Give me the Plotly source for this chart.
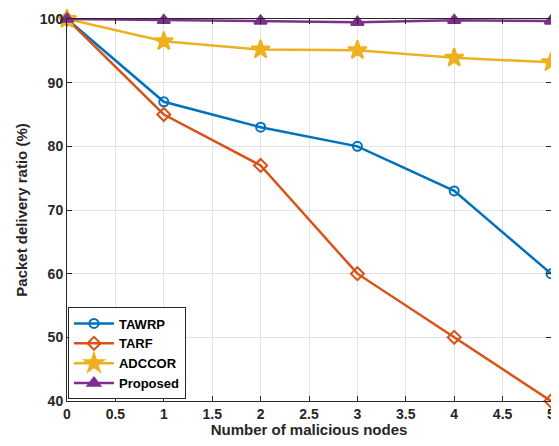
import plotly.graph_objects as go

x_nodes = [0, 1, 2, 3, 4, 5]
tawrp = [100, 87, 83, 80, 73, 60]
tarf = [100, 85, 77, 60, 50, 40]
adccor = [100, 96.5, 95.2, 95.1, 93.9, 93.2]
proposed = [100, 99.8, 99.7, 99.5, 99.8, 99.7]

x_ticks = [0, 0.5, 1, 1.5, 2, 2.5, 3, 3.5, 4, 4.5, 5]
x_tick_labels = ["0", "0.5", "1", "1.5", "2", "2.5", "3", "3.5", "4", "4.5", "5"]
y_ticks = [40, 50, 60, 70, 80, 90, 100]
y_tick_labels = ["40", "50", "60", "70", "80", "90", "100"]

series = [
    ("TAWRP", tawrp, "#0072BD", "circle-open", 9),
    ("TARF", tarf, "#D95319", "diamond-open", 10),
    ("ADCCOR", adccor, "#EDB120", "star", 14),
    ("Proposed", proposed, "#7E2F8E", "triangle-up", 11),
]

fam = "Liberation Sans, Arial, sans-serif"
fig = go.Figure()
for name, ys, color, sym, sz in series:
    fig.add_trace(go.Scatter(
        x=x_nodes, y=ys, name="<b>%s</b>" % name, mode="lines+markers",
        line=dict(color=color, width=2.5),
        marker=dict(symbol=sym, size=sz, color=color,
                    line=dict(color=color, width=2)),
        cliponaxis=False,
    ))

# page body has an 8px margin, so the figure is sized/offset to compensate
fig.update_layout(
    width=553, height=430,
    margin=dict(l=59, r=10, t=11, b=37, autoexpand=False),
    plot_bgcolor="white", paper_bgcolor="white",
    font=dict(family=fam, size=14, color="#262626"),
    showlegend=True,
    legend=dict(x=0.002, y=0.004, xanchor="left", yanchor="bottom",
                bgcolor="white", bordercolor="#262626", borderwidth=1,
                font=dict(size=13, family=fam, color="#000000"),
                tracegroupgap=0, itemwidth=40),
)
fig.update_xaxes(
    range=[0, 5], tickmode="array",
    tickvals=x_ticks,
    ticktext=["<b>%s</b>" % t for t in x_tick_labels],
    tickfont=dict(size=14, color="#262626"),
    showgrid=True, gridcolor="#e3e3e3", gridwidth=1,
    showline=True, linecolor="#262626", linewidth=1, mirror="ticks",
    ticks="inside", ticklen=5, tickcolor="#262626",
    zeroline=False, automargin=False, ticklabeloverflow="allow",
    title=dict(text="<b>Number of malicious nodes</b>", font=dict(size=15), standoff=6),
)
fig.update_yaxes(
    range=[40, 100], tickmode="array",
    tickvals=y_ticks,
    ticktext=["<b>%s</b>" % t for t in y_tick_labels],
    tickfont=dict(size=14, color="#262626"),
    showgrid=True, gridcolor="#e3e3e3", gridwidth=1,
    showline=True, linecolor="#262626", linewidth=1, mirror="ticks",
    ticks="inside", ticklen=5, tickcolor="#262626",
    zeroline=False, automargin=False, ticklabeloverflow="allow",
    title=dict(text="<b>Packet delivery ratio (%)</b>", font=dict(size=15), standoff=8),
)

fig.write_html("out.html")
